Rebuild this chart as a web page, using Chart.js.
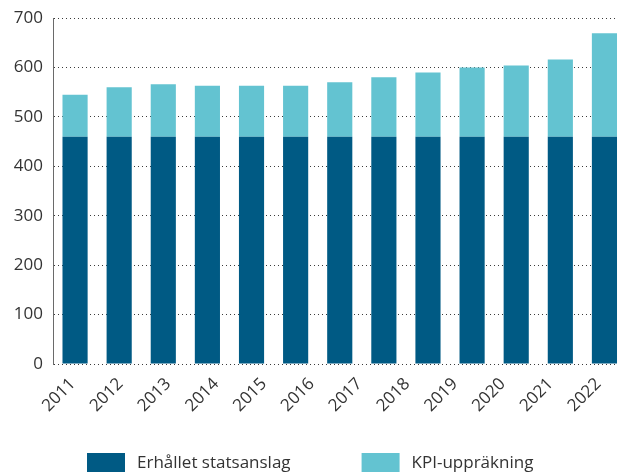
<!DOCTYPE html>
<html>
<head>
<meta charset="utf-8">
<style>
  html, body { margin: 0; padding: 0; background: #ffffff; }
  #wrap { width: 623px; height: 474px; position: relative; }
</style>
<script src="https://cdn.jsdelivr.net/npm/chart.js@4/dist/chart.umd.min.js"></script>
</head>
<body>
<div id="wrap"><canvas id="c" width="623" height="474"></canvas></div>
<script>
// Bar positions (13 bars in the source picture)
const categories = ['1', '2', '3', '4', '5', '6', '7', '8', '9', '10', '11', '12', '13'];
// Tick labels shown under the axis (12 labels in the source picture)
const tickLabels = ['2011', '2012', '2013', '2014', '2015', '2016', '2017', '2018', '2019', '2020', '2021', '2022'];
// Series values
const statsanslag = [460, 460, 460, 460, 460, 460, 460, 460, 460, 460, 460, 460, 460];
const kpiUppraakning = [85, 100, 106, 103, 103, 103, 110, 120, 130, 140, 144, 156, 209];
// Y axis ticks
const yTicks = [0, 100, 200, 300, 400, 500, 600, 700];

const FONT = "'Open Sans', 'Noto Sans', sans-serif";
const TEXT = '#333333';

// Legend drawn on the canvas below the axis labels
const bottomLegend = {
  id: 'bottomLegend',
  afterDraw(chart) {
    const ctx = chart.ctx;
    const ds = chart.data.datasets;
    const boxW = 38, boxH = 19, gapText = 12, gapItem = 71;
    ctx.save();
    ctx.font = "17px " + FONT;
    const widths = ds.map(d => boxW + gapText + ctx.measureText(d.label).width);
    const total = widths.reduce((a, b) => a + b, 0) + gapItem * (ds.length - 1);
    let x = Math.round(310 - total / 2);
    const top = 453;
    ds.forEach((d, i) => {
      ctx.fillStyle = d.backgroundColor;
      ctx.fillRect(x, top, boxW, boxH);
      ctx.fillStyle = TEXT;
      ctx.textBaseline = 'middle';
      ctx.textAlign = 'left';
      ctx.fillText(d.label, x + boxW + gapText, top + boxH / 2 + 1);
      x += widths[i] + gapItem;
    });
    ctx.restore();
  }
};

// The bar band in the source runs a few pixels past the canvas edge
const widenBars = {
  id: 'widenBars',
  afterLayout(chart) {
    const s = chart.scales.x;
    s.right = s.left + 573.5;
    s.width = s.right - s.left;
    s.configure();
  }
};

new Chart(document.getElementById('c'), {
  type: 'bar',
  data: {
    labels: categories,
    datasets: [
      { label: 'Erhållet statsanslag', data: statsanslag, backgroundColor: '#005A84', xAxisID: 'x', yAxisID: 'y', stack: 's' },
      { label: 'KPI-uppräkning', data: kpiUppraakning, backgroundColor: '#63C3D1', xAxisID: 'x', yAxisID: 'y', stack: 's' }
    ]
  },
  plugins: [bottomLegend, widenBars],
  options: {
    responsive: false,
    devicePixelRatio: 1,
    animation: false,
    events: [],
    layout: { padding: { left: 0, right: 0, top: 18, bottom: 48 } },
    datasets: { bar: { barPercentage: 0.57, categoryPercentage: 1.0 } },
    scales: {
      x: { type: 'category', stacked: true, display: false, offset: true },
      xl: {
        type: 'linear', position: 'bottom', bounds: 'data', offset: false,
        min: -0.413, max: 11.35,
        grid: { display: false, drawTicks: false, offset: false },
        border: { display: false },
        afterBuildTicks: (s) => { s.ticks = tickLabels.map((_, i) => ({ value: i })); },
        ticks: {
          autoSkip: false, minRotation: 45, maxRotation: 45, padding: 10,
          color: TEXT, font: { family: FONT, size: 17 },
          callback: (v) => tickLabels[v]
        }
      },
      y: {
        stacked: true, min: 0, max: 700,
        afterBuildTicks: (s) => { s.ticks = yTicks.map(v => ({ value: v })); },
        afterFit: (s) => { s.width = 53; s.paddingTop = 0; s.paddingBottom = 0; },
        grid: { color: '#3a3a3a', lineWidth: 1, drawTicks: false },
        border: { display: true, color: '#6a6a6a', width: 1, dash: [1, 3] },
        ticks: { padding: 10, color: TEXT, font: { family: FONT, size: 17 } }
      }
    },
    plugins: {
      tooltip: { enabled: false },
      legend: { display: false }
    }
  }
});
</script>
</body>
</html>
